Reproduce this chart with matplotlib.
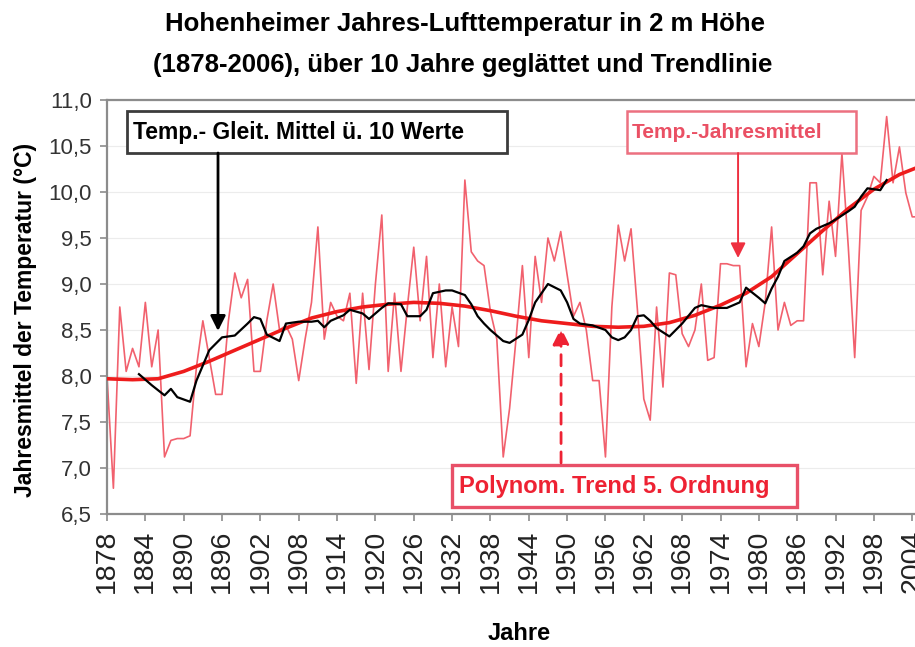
import numpy as np
import matplotlib
matplotlib.use("Agg")
import matplotlib.pyplot as plt
from matplotlib.patches import Rectangle

plt.rcParams['font.family'] = ['Liberation Sans', 'DejaVu Sans']

# annual mean air temperature, Hohenheim, 1878-2006
years = list(range(1878, 2007))
annual_temp = [
    8.0, 6.78, 8.75, 8.05, 8.3, 8.1, 8.8, 8.1, 8.5, 7.12,
    7.3, 7.32, 7.32, 7.35, 8.1, 8.6, 8.2, 7.8, 7.8, 8.6,
    9.12, 8.85, 9.05, 8.05, 8.05, 8.6, 9.0, 8.5, 8.55, 8.4,
    7.95, 8.4, 8.8, 9.62, 8.4, 8.8, 8.65, 8.6, 8.9, 7.92,
    8.9, 8.07, 9.0, 9.75, 8.05, 8.9, 8.05, 8.75, 9.4, 8.6,
    9.3, 8.2, 9.0, 8.1, 8.75, 8.32, 10.13, 9.35, 9.25, 9.2,
    8.7, 8.4, 7.12, 7.65, 8.4, 9.2, 8.2, 9.3, 8.8, 9.5,
    9.25, 9.57, 9.1, 8.65, 8.8, 8.5, 7.95, 7.95, 7.12, 8.75,
    9.64, 9.25, 9.6, 8.72, 7.75, 7.52, 8.75, 7.88, 9.12, 9.1,
    8.46, 8.32, 8.5, 9.0, 8.17, 8.2, 9.22, 9.22, 9.2, 9.2,
    8.1, 8.57, 8.32, 8.8, 9.62, 8.5, 8.8, 8.55, 8.6, 8.6,
    10.1, 10.1, 9.1, 9.9, 9.3, 10.42, 9.4, 8.2, 9.8, 9.95,
    10.17, 10.1, 10.82, 10.1, 10.49, 9.99, 9.73, 9.73, 9.9,
]

# 10-year moving average as drawn (black line)
ma_years = [
    1883, 1885, 1887, 1888, 1889, 1891, 1892, 1894, 1896, 1898,
    1900, 1901, 1902, 1903, 1905, 1906, 1908, 1910, 1911, 1912,
    1913, 1915, 1916, 1918, 1919, 1921, 1922, 1924, 1925, 1927,
    1928, 1929, 1931, 1932, 1934, 1935, 1936, 1937, 1938, 1940,
    1941, 1943, 1944, 1945, 1947, 1949, 1950, 1951, 1952, 1954,
    1956, 1957, 1958, 1959, 1960, 1961, 1962, 1963, 1964, 1966,
    1967, 1968, 1970, 1971, 1973, 1975, 1977, 1978, 1980, 1981,
    1982, 1983, 1984, 1986, 1987, 1988, 1989, 1991, 1992, 1994,
    1995, 1996, 1997, 1999, 2000,
]
ma_temp = [
    8.02, 7.9, 7.79, 7.86, 7.77, 7.72, 7.95, 8.28, 8.42, 8.44,
    8.57, 8.64, 8.62, 8.45, 8.38, 8.57, 8.59, 8.59, 8.6, 8.53,
    8.6, 8.66, 8.72, 8.68, 8.62, 8.74, 8.79, 8.78, 8.65, 8.65,
    8.72, 8.9, 8.93, 8.93, 8.88, 8.78, 8.65, 8.57, 8.5, 8.38,
    8.36, 8.45, 8.61, 8.8, 9.0, 8.93, 8.8, 8.62, 8.57, 8.55,
    8.5, 8.42, 8.39, 8.42, 8.5, 8.65, 8.66, 8.6, 8.52, 8.43,
    8.5, 8.57, 8.74, 8.77, 8.74, 8.74, 8.8, 8.96, 8.85, 8.79,
    8.95, 9.08, 9.25, 9.34, 9.41, 9.55, 9.6, 9.66, 9.7, 9.79,
    9.84, 9.95, 10.04, 10.02, 10.13,
]

# polynomial trend (5th order) as drawn
trend_years = list(range(1878, 2007, 4))
trend_temp = [
    7.97, 7.96, 7.97, 8.05, 8.16, 8.28, 8.4, 8.52, 8.63, 8.7,
    8.75, 8.78, 8.8, 8.79, 8.76, 8.71, 8.65, 8.6, 8.57, 8.54,
    8.53, 8.54, 8.58, 8.66, 8.77, 8.9, 9.08, 9.33, 9.58, 9.82,
    10.03, 10.19, 10.3,
]

xtick_years = list(range(1878, 2005, 6))
ytick_vals = [6.5, 7.0, 7.5, 8.0, 8.5, 9.0, 9.5, 10.0, 10.5, 11.0]

W, H = 915, 647
fig = plt.figure(figsize=(W / 100, H / 100), dpi=100)
fig.patch.set_facecolor('white')
# plot area: x 107..925 px (right edge cut off), y 100..514 px
ax = fig.add_axes([107 / W, (H - 514) / H, 818 / W, 414 / H])
ax.set_xlim(1878, 2006)
ax.set_ylim(6.5, 11.0)

for s in ['left', 'bottom', 'top']:
    ax.spines[s].set_color('#8c8c8c')
    ax.spines[s].set_linewidth(1.6)
ax.spines['right'].set_visible(False)

ax.set_yticks(ytick_vals)
ax.set_yticklabels([f"{v:.1f}".replace('.', ',') for v in ytick_vals],
                   fontsize=16, color='#333333')
ax.set_xticks(xtick_years)
ax.set_xticklabels([str(y) for y in xtick_years], rotation=90,
                   fontsize=20.5, color='#222222')
ax.tick_params(axis='both', direction='out', length=5, width=1.2,
               color='#8c8c8c')
ax.tick_params(axis='y', pad=6)
ax.tick_params(axis='x', pad=6)
ax.grid(axis='y', color='#ececec', linewidth=0.8)
ax.set_axisbelow(True)

ax.plot(years, annual_temp, color='#f0505e', linewidth=1.2, alpha=0.9,
        zorder=2)
ax.plot(trend_years, trend_temp, color='#ee1c1c', linewidth=2.6,
        solid_joinstyle='round', zorder=3)
ax.plot(ma_years, ma_temp, color='black', linewidth=1.6, zorder=4)

ax.set_ylabel('Jahresmittel der Temperatur (°C)', fontsize=16.5,
              fontweight='bold')
ax.yaxis.set_label_coords(-(107 - 37) / 818, 0.468)
fig.text(519 / W, 1 - 633 / H, 'Jahre', ha='center', va='center',
         fontsize=17, fontweight='bold')

fig.text(465 / W, 1 - 24 / H, 'Hohenheimer Jahres-Lufttemperatur in 2 m Höhe',
         ha='center', va='center', fontsize=18.5, fontweight='bold')
fig.text(463 / W, 1 - 65 / H,
         '(1878-2006), über 10 Jahre geglättet und Trendlinie',
         ha='center', va='center', fontsize=18.5, fontweight='bold')


def px_x(px):
    return 1878 + (px - 107) / 6.39


def px_y(py):
    return 11.0 - (py - 100) / 92.0


def label_box(x0, x1, y0, y1, text, tx, edge, tcolor, lw, size):
    ax.add_patch(Rectangle((px_x(x0), px_y(y1)), px_x(x1) - px_x(x0),
                           px_y(y0) - px_y(y1), facecolor='white',
                           edgecolor=edge, linewidth=lw, zorder=6,
                           clip_on=False))
    ax.text(px_x(tx), px_y((y0 + y1) / 2), text, ha='left', va='center',
            fontsize=size, fontweight='bold', color=tcolor, zorder=7)


label_box(127, 507, 111, 153, 'Temp.- Gleit. Mittel ü. 10 Werte', 133,
          '#3c3c3c', 'black', 2.0, 16.5)
label_box(627, 856, 111, 153, 'Temp.-Jahresmittel', 632,
          '#ec7080', '#ea5064', 1.8, 15)
label_box(452, 797, 465, 507, 'Polynom. Trend 5. Ordnung', 459,
          '#e85068', '#ee2233', 2.4, 17)

ax.annotate('', xy=(px_x(218), px_y(331)), xytext=(px_x(218), px_y(153)),
            arrowprops=dict(arrowstyle='-|>,head_length=0.9,head_width=0.45',
                            color='black', lw=2.0, shrinkA=0, shrinkB=0),
            zorder=8)
ax.annotate('', xy=(px_x(738), px_y(258)), xytext=(px_x(738), px_y(153)),
            arrowprops=dict(arrowstyle='-|>,head_length=0.9,head_width=0.45',
                            color='#ee3040', lw=1.4, shrinkA=0, shrinkB=0),
            zorder=8)
ax.annotate('', xy=(px_x(561), px_y(328)), xytext=(px_x(561), px_y(463)),
            arrowprops=dict(arrowstyle='-|>,head_length=1.0,head_width=0.5',
                            color='#ee2233', lw=2.0, linestyle=(0, (4, 3)),
                            shrinkA=0, shrinkB=0),
            zorder=8)

fig.savefig('out.png', dpi=100, facecolor='white')
